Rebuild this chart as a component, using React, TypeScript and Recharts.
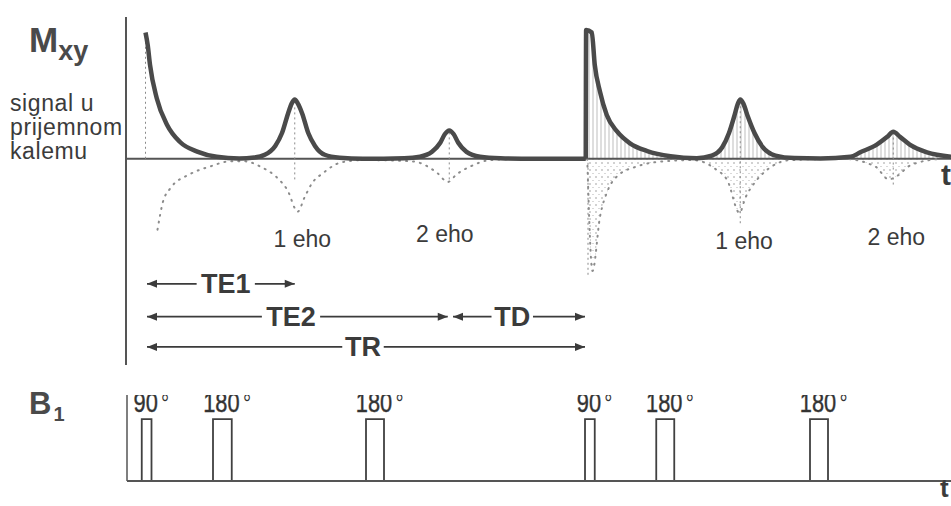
import React from 'react';
import { ComposedChart, Line, Area, Scatter, XAxis, YAxis, ReferenceLine, ReferenceArea } from 'recharts';

// time axis in ms, 90° pulse of the first TR at t = 0
const T_MIN = -2.6;
const T_MAX = 107.4;

// transverse magnetisation envelope, first repetition
const envelope1 = [
  { t: 0.0, v: 0.98 }, { t: 0.3, v: 0.88 }, { t: 0.6, v: 0.73 }, { t: 1.5, v: 0.47 },
  { t: 2.9, v: 0.26 }, { t: 4.6, v: 0.13 }, { t: 6.9, v: 0.055 }, { t: 9.5, v: 0.015 },
  { t: 12.5, v: 0.003 }, { t: 14.5, v: 0.01 }, { t: 15.9, v: 0.031 }, { t: 17.3, v: 0.1 },
  { t: 18.2, v: 0.2 }, { t: 19.0, v: 0.35 }, { t: 19.5, v: 0.43 }, { t: 19.9, v: 0.46 },
  { t: 20.3, v: 0.43 }, { t: 20.9, v: 0.35 }, { t: 21.7, v: 0.2 }, { t: 22.6, v: 0.1 },
  { t: 23.9, v: 0.031 }, { t: 25.9, v: 0.008 }, { t: 29.0, v: 0 }, { t: 34.5, v: 0.004 },
  { t: 36.6, v: 0.016 }, { t: 38.2, v: 0.054 }, { t: 39.3, v: 0.124 }, { t: 39.9, v: 0.19 },
  { t: 40.5, v: 0.22 }, { t: 41.1, v: 0.19 }, { t: 41.7, v: 0.124 }, { t: 42.8, v: 0.054 },
  { t: 44.6, v: 0.016 }, { t: 47.3, v: 0.004 }, { t: 52.0, v: 0 }, { t: 58.7, v: 0 },
];

// second repetition (starts with the vertical jump at the next 90° pulse)
const envelope2 = [
  { t: 58.7, v: 0 }, { t: 58.75, v: 1.0 }, { t: 59.5, v: 0.98 }, { t: 59.9, v: 0.73 },
  { t: 60.6, v: 0.52 }, { t: 61.5, v: 0.34 }, { t: 62.9, v: 0.21 }, { t: 64.6, v: 0.12 },
  { t: 66.9, v: 0.06 }, { t: 70.0, v: 0.02 }, { t: 73.5, v: 0.005 }, { t: 75.5, v: 0.025 },
  { t: 76.9, v: 0.09 }, { t: 77.8, v: 0.2 }, { t: 78.5, v: 0.33 }, { t: 79.0, v: 0.43 },
  { t: 79.3, v: 0.46 }, { t: 79.7, v: 0.43 }, { t: 80.3, v: 0.33 }, { t: 81.2, v: 0.2 },
  { t: 82.3, v: 0.09 }, { t: 84.0, v: 0.025 }, { t: 86.5, v: 0.006 }, { t: 90.0, v: 0.003 },
  { t: 94.0, v: 0.015 }, { t: 95.3, v: 0.05 }, { t: 97.5, v: 0.11 }, { t: 98.9, v: 0.17 },
  { t: 99.7, v: 0.21 }, { t: 100.6, v: 0.17 }, { t: 101.9, v: 0.11 }, { t: 104.2, v: 0.05 },
  { t: 107.4, v: 0.016 },
];

// dotted negative half of the signal
const negative1 = [
  { t: 1.6, v: -0.55 }, { t: 2.3, v: -0.34 }, { t: 3.3, v: -0.23 }, { t: 5.9, v: -0.12 },
  { t: 8.6, v: -0.06 }, { t: 11.3, v: -0.02 }, { t: 13.3, v: -0.02 }, { t: 15.3, v: -0.06 },
  { t: 17.6, v: -0.15 }, { t: 18.9, v: -0.24 }, { t: 20.3, v: -0.41 }, { t: 21.2, v: -0.3 },
  { t: 22.2, v: -0.19 }, { t: 23.7, v: -0.11 }, { t: 26.0, v: -0.03 }, { t: 29.0, v: -0.01 },
  { t: 35.6, v: -0.02 }, { t: 38.9, v: -0.11 }, { t: 40.3, v: -0.18 }, { t: 41.5, v: -0.12 },
  { t: 43.3, v: -0.06 }, { t: 46.0, v: -0.01 }, { t: 50.0, v: 0 },
];

const negative2 = [
  { t: 58.9, v: 0 }, { t: 59.6, v: -0.87 }, { t: 60.6, v: -0.45 }, { t: 61.6, v: -0.25 },
  { t: 63.0, v: -0.13 }, { t: 65.5, v: -0.06 }, { t: 69.0, v: -0.02 }, { t: 73.0, v: -0.01 },
  { t: 76.0, v: -0.08 }, { t: 77.6, v: -0.17 }, { t: 79.2, v: -0.42 }, { t: 80.0, v: -0.3 },
  { t: 81.3, v: -0.18 }, { t: 83.0, v: -0.08 }, { t: 86.0, v: -0.01 }, { t: 93.0, v: 0 },
  { t: 97.3, v: -0.06 }, { t: 99.1, v: -0.16 }, { t: 100.3, v: -0.13 }, { t: 102.0, v: -0.05 },
  { t: 106.0, v: 0 },
];

// thin vertical marks at the FID / echo centres
const markT = [0, 19.9, 40.5, 59.0, 79.3, 99.7];
const markTop = [0.96, 0.42, 0.2, 0, 0.44, 0.2];
const markBottom = [0, -0.16, -0.16, -0.9, -0.5, -0.2];

const echoNames = ['1 eho', '2 eho', '1 eho', '2 eho'];
const echoT = [20.9, 39.9, 79.8, 100.1];
const echoV = [-0.62, -0.58, -0.64, -0.61];

const intervals = [
  { name: 'TE1', from: 0.2, to: 19.9, mid: 10.7, level: -0.97 },
  { name: 'TE2', from: 0.2, to: 40.3, mid: 19.4, level: -1.225 },
  { name: 'TD', from: 41.0, to: 58.6, mid: 48.9, level: -1.225 },
  { name: 'TR', from: 0.2, to: 58.6, mid: 29.0, level: -1.46 },
];

// RF pulses (B1), flip angles in degrees
const pulseNames = ['90', '180', '180', '90', '180', '180'];
const pulseStart = [-0.5, 9.0, 29.4, 58.6, 68.1, 88.6];
const pulseEnd = [0.8, 11.5, 31.8, 59.9, 70.5, 91.0];

const W = 951;
const LEFT = 126;
const pxPerUnit = (W - LEFT) / (T_MAX - T_MIN);
const INK = '#3b3b3b';
const SANS = 'Arial, "Liberation Sans", Helvetica, sans-serif';
const LABEL_SIZE = 27;

const echoLabels = echoNames.map((name, i) => ({ t: echoT[i], v: echoV[i], name }));
const intervalLabels = intervals.map((iv) => ({ t: iv.mid, v: iv.level, name: iv.name }));
const arrowHeads = intervals.flatMap((iv) => [
  { t: iv.from, v: iv.level, dir: -1 },
  { t: iv.to, v: iv.level, dir: 1 },
]);
const pulseLabels = pulseNames.map((name, i) => ({ t: (pulseStart[i] + pulseEnd[i]) / 2, v: 1, name }));

const EchoText = (props: any) => (
  <text x={props.cx} y={props.cy} textAnchor="middle" dominantBaseline="central"
    fontFamily={SANS} fontSize={23} fill={INK}>{props.payload.name}</text>
);

const IntervalText = (props: any) => (
  <text x={props.cx} y={props.cy} textAnchor="middle" dominantBaseline="central"
    fontFamily={SANS} fontWeight="bold" fontSize={LABEL_SIZE} fill={INK}>{props.payload.name}</text>
);

const ArrowHead = (props: any) => {
  const { cx, cy, payload } = props;
  const d = payload.dir;
  return <polygon points={`${cx},${cy} ${cx - d * 10},${cy - 4} ${cx - d * 10},${cy + 4}`} fill={INK} />;
};

// condensed label: digits centred on the pulse, degree sign trailing
const PulseText = (props: any) => (
  <g transform={`translate(${props.cx - 1}, ${props.cy - 7}) scale(0.78, 1)`}>
    <text x={0} y={0} textAnchor="middle" fontFamily={SANS} fontSize={28} fill="#333"
      stroke="#333" strokeWidth={0.4}>{props.payload.name}</text>
    <text x={props.payload.name.length * 7.9 + 4} y={0} textAnchor="start" fontFamily={SANS} fontSize={26}
      fill="#333">°</text>
  </g>
);

export default function App() {
  return (
    <div style={{ position: 'fixed', left: 0, top: 0, width: W, height: 506, background: '#fff', overflow: 'hidden' }}>
      {/* M_xy signal */}
      <div style={{ position: 'absolute', top: 0, left: 0 }}>
        <ComposedChart width={W} height={370} margin={{ top: 17, right: 0, bottom: 5, left: LEFT }}>
          <defs>
            <pattern id="hatch" width="4" height="4" patternUnits="userSpaceOnUse">
              <line x1="1" y1="0" x2="1" y2="4" stroke="#a0a0a0" strokeWidth="0.7" />
            </pattern>
            <pattern id="stipple" width="6" height="7" patternUnits="userSpaceOnUse">
              <circle cx="2" cy="2" r="0.8" fill="#999" />
              <circle cx="5" cy="5.5" r="0.6" fill="#aaa" />
            </pattern>
          </defs>
          <XAxis dataKey="t" type="number" domain={[T_MIN, T_MAX]} allowDataOverflow hide />
          <YAxis type="number" domain={[-1.6, 1.1]} allowDataOverflow hide />
          <ReferenceLine x={T_MIN} stroke="#555" strokeWidth={2} ifOverflow="visible" />
          <ReferenceLine y={0} stroke="#555" strokeWidth={2} ifOverflow="visible" />
          {markT.map((t, i) => (
            <ReferenceLine key={'m' + i} segment={[{ x: t, y: markBottom[i] }, { x: t, y: markTop[i] }]}
              stroke="#8a8a8a" strokeWidth={1} strokeDasharray="2 3" ifOverflow="visible" />
          ))}
          <Area data={envelope2} dataKey="v" type="monotone" stroke="none" fill="url(#hatch)" fillOpacity={1}
            baseValue={0} isAnimationActive={false} />
          <Area data={negative2} dataKey="v" type="monotone" stroke="none" fill="url(#stipple)" fillOpacity={1}
            baseValue={0} isAnimationActive={false} />
          <Line data={negative1} dataKey="v" type="monotone" stroke="#8c8c8c" strokeWidth={2}
            strokeDasharray="1 6" strokeLinecap="round" dot={false} isAnimationActive={false} />
          <Line data={negative2} dataKey="v" type="monotone" stroke="#8c8c8c" strokeWidth={2}
            strokeDasharray="1 6" strokeLinecap="round" dot={false} isAnimationActive={false} />
          <Line data={envelope1} dataKey="v" type="monotone" stroke="#4a4a4a" strokeWidth={4.5}
            strokeLinejoin="round" dot={false} isAnimationActive={false} />
          <Line data={envelope2} dataKey="v" type="monotone" stroke="#4a4a4a" strokeWidth={4.5}
            strokeLinejoin="round" dot={false} isAnimationActive={false} />
          {intervals.map((iv) => {
            const gap = (iv.name.length * 0.31 * LABEL_SIZE + 4) / pxPerUnit;
            return (
              <React.Fragment key={iv.name}>
                <ReferenceLine segment={[{ x: iv.from, y: iv.level }, { x: iv.mid - gap, y: iv.level }]}
                  stroke={INK} strokeWidth={1.8} ifOverflow="visible" />
                <ReferenceLine segment={[{ x: iv.mid + gap, y: iv.level }, { x: iv.to, y: iv.level }]}
                  stroke={INK} strokeWidth={1.8} ifOverflow="visible" />
              </React.Fragment>
            );
          })}
          <Scatter data={arrowHeads} dataKey="v" shape={ArrowHead} isAnimationActive={false} />
          <Scatter data={intervalLabels} dataKey="v" shape={IntervalText} isAnimationActive={false} />
          <Scatter data={echoLabels} dataKey="v" shape={EchoText} isAnimationActive={false} />
        </ComposedChart>
      </div>

      {/* B1 pulse sequence */}
      <div style={{ position: 'absolute', top: 370, left: 0 }}>
        <ComposedChart width={W} height={136} margin={{ top: 25, right: 0, bottom: 25, left: LEFT + 1 }}>
          <XAxis dataKey="t" type="number" domain={[T_MIN + 1 / pxPerUnit, T_MAX]} allowDataOverflow hide />
          <YAxis type="number" domain={[0, 1.39]} allowDataOverflow hide />
          <ReferenceLine x={T_MIN + 1 / pxPerUnit} stroke="#555" strokeWidth={1.5} ifOverflow="visible" />
          <ReferenceLine y={0} stroke="#555" strokeWidth={2} ifOverflow="visible" />
          {pulseStart.map((s, i) => (
            <ReferenceArea key={'p' + i} x1={s} x2={pulseEnd[i]} y1={0} y2={1} fill="#fff" fillOpacity={1}
              stroke="#404040" strokeWidth={1.8} ifOverflow="visible" />
          ))}
          <Scatter data={pulseLabels} dataKey="v" shape={PulseText} isAnimationActive={false} />
        </ComposedChart>
      </div>

      {/* axis titles */}
      <div style={{ position: 'absolute', left: 29, top: 22, fontFamily: SANS, fontWeight: 'bold', color: '#4a4a4a', lineHeight: 1 }}>
        <span style={{ fontSize: 35 }}>M</span>
        <span style={{ fontSize: 27, position: 'relative', top: 8 }}>xy</span>
      </div>
      <div style={{ position: 'absolute', left: 10, top: 91, fontFamily: SANS, fontSize: 23, letterSpacing: 0.6, lineHeight: '24px', color: INK }}>
        signal u<br />prijemnom<br />kalemu
      </div>
      <div style={{ position: 'absolute', left: 29, top: 388, fontFamily: SANS, fontWeight: 'bold', color: '#4a4a4a', lineHeight: 1 }}>
        <span style={{ fontSize: 31 }}>B</span>
        <span style={{ fontSize: 20, position: 'relative', top: 7, marginLeft: 2 }}>1</span>
      </div>
      <div style={{ position: 'absolute', left: 941, top: 160, fontFamily: SANS, fontWeight: 'bold', fontSize: 30, color: INK, lineHeight: 1 }}>t</div>
      <div style={{ position: 'absolute', left: 940, top: 475, fontFamily: SANS, fontWeight: 'bold', fontSize: 26, color: INK, lineHeight: 1 }}>t</div>
    </div>
  );
}
